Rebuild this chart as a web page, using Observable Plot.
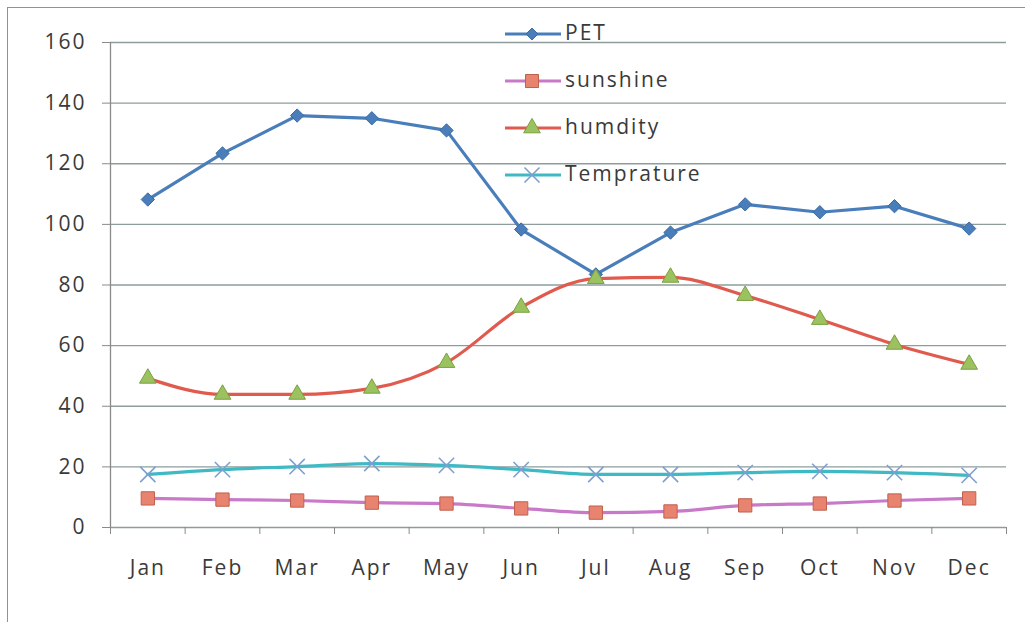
<!DOCTYPE html>
<html>
<head>
<meta charset="utf-8">
<script src="https://cdn.jsdelivr.net/npm/d3@7"></script>
<script src="https://cdn.jsdelivr.net/npm/@observablehq/plot@0.6"></script>
<style>
  html, body { margin: 0; padding: 0; background: #fff; }
  #wrap { position: relative; width: 1025px; height: 622px; overflow: hidden; font-family: "Open Sans", Lato, sans-serif; }
  #frame { position: absolute; left: 7px; top: 7px; width: 1040px; height: 640px; border: 1.5px solid #8c9494; box-sizing: border-box; }
  #chart { position: absolute; left: 0; top: 0; }
  #chart text { letter-spacing: 2px; }
  #legend { position: absolute; left: 503px; top: 17px; font-size: 21px; color: #3a3a3a; letter-spacing: 2px; }
  #legend .row { position: absolute; left: 0; white-space: nowrap; height: 30px; line-height: 30px; }
  #legend svg { vertical-align: middle; }
  #legend span { position: absolute; left: 62px; top: 0; }
</style>
</head>
<body>
<div id="wrap">
  <div id="frame"></div>
  <div id="chart"></div>
  <div id="legend"></div>
</div>
<script>
const months = ["Jan","Feb","Mar","Apr","May","Jun","Jul","Aug","Sep","Oct","Nov","Dec"];
const pet         = [108.2, 123.4, 135.9, 135.0, 131.0, 98.3, 83.5, 97.3, 106.6, 104.0, 106.0, 98.6];
const sunshine    = [9.6, 9.2, 8.9, 8.2, 7.9, 6.3, 4.9, 5.3, 7.3, 7.9, 8.9, 9.6];
const humidity    = [49.2, 43.9, 43.9, 45.9, 54.4, 72.6, 82.1, 82.5, 76.5, 68.6, 60.4, 53.8];
const temperature = [17.5, 19.1, 20.1, 21.1, 20.5, 19.1, 17.5, 17.5, 18.1, 18.5, 18.1, 17.2];
const seriesNames = ["PET", "sunshine", "humdity", "Temprature"];
const yTicks = [0, 20, 40, 60, 80, 100, 120, 140, 160];

const styles = {
  "PET":        {line: "#4a7ebb", symbol: d3.symbolDiamond2, fill: "#4a7ebb", stroke: "#3a6aa5", r: 6, curve: "linear"},
  "sunshine":   {line: "#c87ac8", symbol: "square", fill: "#e8836f", stroke: "#c0604f", r: 7.5, curve: "monotone-x"},
  "humdity":    {line: "#e05a4e", symbol: "triangle", fill: "#9bc25f", stroke: "#7aa040", r: 6.2, curve: "monotone-x"},
  "Temprature": {line: "#3fb9c3", symbol: "times", fill: "none", stroke: "#7f9fd0", r: 7, curve: "monotone-x"}
};

const valuesBy = {"PET": pet, "sunshine": sunshine, "humdity": humidity, "Temprature": temperature};
const rows = [];
for (const s of seriesNames) valuesBy[s].forEach((v, i) => rows.push({series: s, i: i + 0.5, month: months[i], value: v}));

const marks = [
  Plot.ruleY(yTicks, {stroke: "#8e9c9c", strokeWidth: 1.3}),
  Plot.ruleX([0], {y1: 0, y2: 160, stroke: "#8a8a8a", strokeWidth: 1.3}),
  Plot.axisY({ticks: yTicks, label: null, tickSize: 8, tickPadding: 16, stroke: "#8a8a8a", fontSize: 21, fill: "#3a3a3a", tickFormat: d => d}),
  Plot.axisX({ticks: d3.range(0, 13), label: null, tickSize: 7, tickFormat: () => "", stroke: "#8a8a8a"}),
  Plot.axisX({ticks: months.map((m, i) => i + 0.5), label: null, tickSize: 0, tickPadding: 33, tickFormat: d => months[Math.floor(d)], fontSize: 21, fill: "#3a3a3a"})
];
for (const s of seriesNames) {
  const st = styles[s];
  const data = rows.filter(d => d.series === s);
  marks.push(Plot.line(data, {x: "i", y: "value", stroke: st.line, strokeWidth: 3.2, curve: st.curve}));
}
for (const s of seriesNames) {
  const st = styles[s];
  const data = rows.filter(d => d.series === s);
  if (st.symbol === "times") {
    marks.push(Plot.dot(data, {x: "i", y: "value", symbol: "times", r: st.r, stroke: st.stroke, strokeWidth: 1.6}));
  } else {
    marks.push(Plot.dot(data, {x: "i", y: "value", symbol: st.symbol, r: st.r, fill: st.fill, stroke: st.stroke, strokeWidth: 1}));
  }
}

const chart = Plot.plot({
  width: 1025,
  height: 622,
  marginLeft: 110,
  marginRight: 19,
  marginTop: 42,
  marginBottom: 95,
  style: {fontFamily: "'Open Sans', Lato, sans-serif", background: "transparent"},
  x: {domain: [0, 12], axis: null},
  y: {domain: [0, 160], axis: null},
  marks
});
document.getElementById("chart").appendChild(chart);

// legend (inside plot area, top)
const legend = document.getElementById("legend");
const symbolPath = {
  "PET": d3.symbol(d3.symbolDiamond2, 90)(),
  "sunshine": d3.symbol(d3.symbolSquare, 170)(),
  "humdity": d3.symbol(d3.symbolTriangle, 120)(),
  "Temprature": d3.symbol(d3.symbolTimes, 150)()
};
seriesNames.forEach((s, k) => {
  const st = styles[s];
  const row = document.createElement("div");
  row.className = "row";
  row.style.top = (k * 47) + "px";
  const sym = st.symbol === "times"
    ? `<path d="${symbolPath[s]}" transform="translate(29,15)" fill="none" stroke="${st.stroke}" stroke-width="1.6"/>`
    : `<path d="${symbolPath[s]}" transform="translate(29,15)" fill="${st.fill}" stroke="${st.stroke}" stroke-width="1"/>`;
  row.innerHTML = `<svg width="60" height="30"><line x1="2" x2="58" y1="15" y2="15" stroke="${st.line}" stroke-width="3.2"/>${sym}</svg><span>${s}</span>`;
  legend.appendChild(row);
});
</script>
</body>
</html>
